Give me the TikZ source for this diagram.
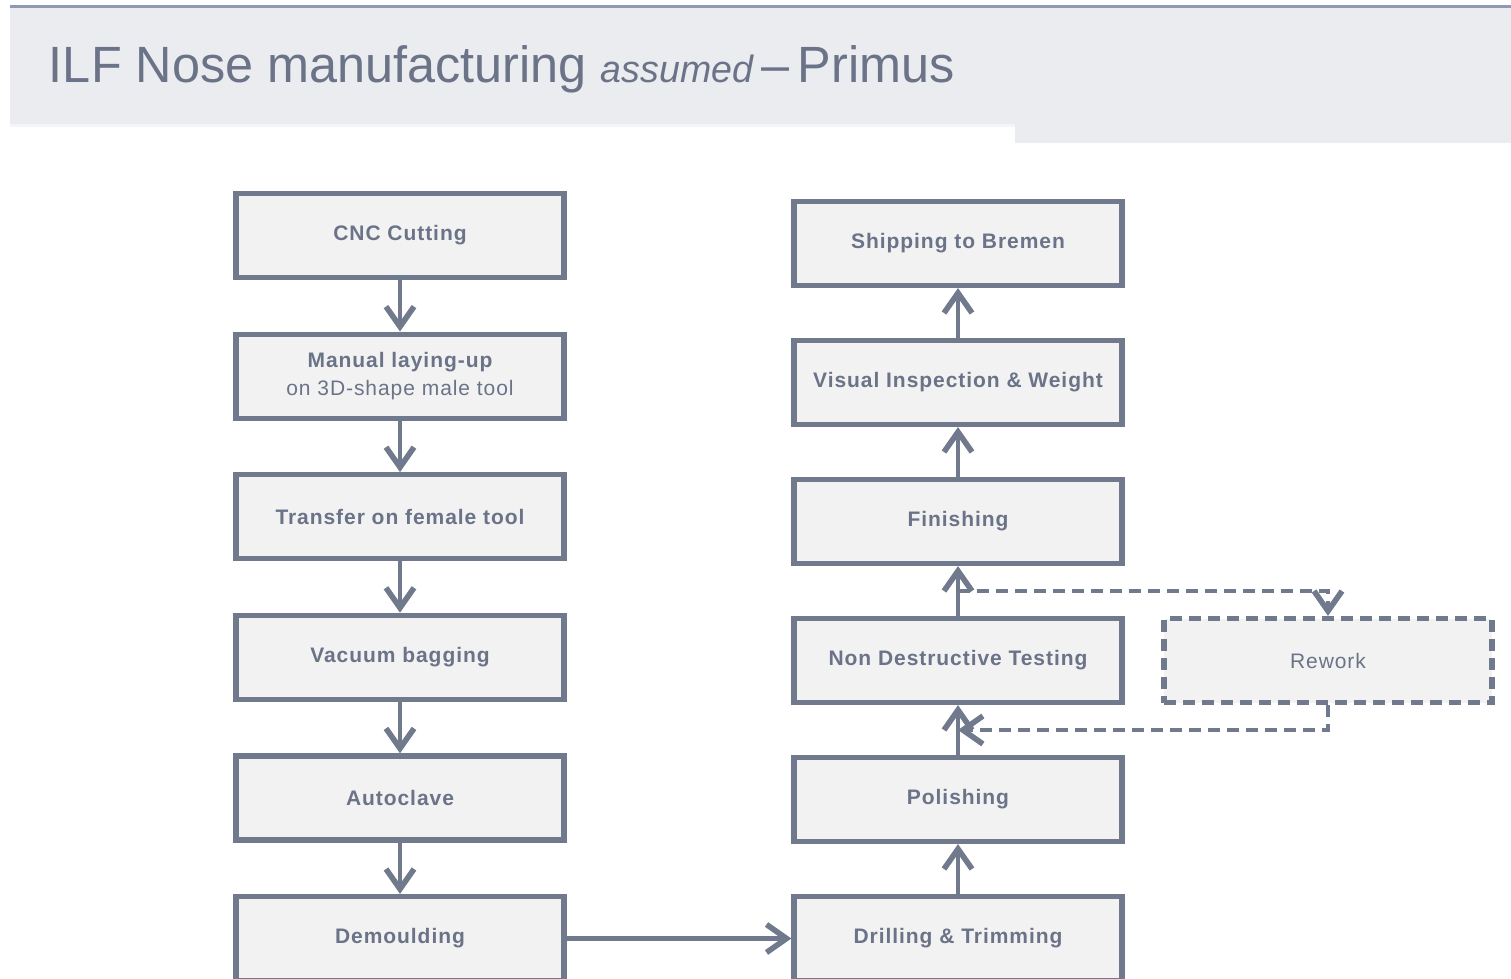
\documentclass[tikz,border=0pt]{standalone}
\usepackage{fontspec}
\setmainfont{Liberation Sans}
\newfontfamily\boxfont[LetterSpace=4.5]{Liberation Sans}
\usetikzlibrary{arrows.meta,calc}

\definecolor{slate}{HTML}{717A8C}
\definecolor{boxfill}{HTML}{F2F2F2}
\definecolor{headband}{HTML}{EBECEF}
\definecolor{headstrip}{HTML}{F4F5F7}
\definecolor{headline}{HTML}{8E9AB2}
\definecolor{labeltext}{HTML}{6B7388}

\begin{document}
\begin{tikzpicture}[x=0.5pt, y=0.5pt, node distance=70.3pt, auto, line width=2pt, >={Straight Barb[length=10pt,width=14pt,line width=2.8pt]}]
\tikzstyle{block} = [rectangle, draw=slate, fill=boxfill, line width=2.6pt, text=labeltext, font=\boxfont\fontsize{10.5}{14}\selectfont\bfseries, align=center, minimum width=164pt, minimum height=42pt, inner sep=0pt]
\tikzstyle{link} = [draw=slate, ->]
\tikzstyle{loop} = [link, dash pattern=on 6pt off 3.5pt]

\useasboundingbox (0,0) rectangle (1511,-979);
\fill[white] (0,0) rectangle (1511,-979);
\fill[headstrip] (10,-120) rectangle (1015,-127);
\fill[headband] (10,-8) -- (1511,-8) -- (1511,-143) -- (1015,-143) -- (1015,-124) -- (10,-124) -- cycle;
\draw[headline, line width=1.5pt] (10,-7) -- (1511,-7);
\node[anchor=base west, inner sep=0pt, text=labeltext, font=\fontsize{25.5}{30}\selectfont, xscale=0.988] (title) at (47,-83) {ILF Nose manufacturing {\fontsize{19}{19}\selectfont\itshape assumed}\,--\,Primus};

\node[block] (cnc) at (400,-235.5) {CNC Cutting};
\node[block, below of=cnc] (layup) {Manual laying-up\\{\mdseries on 3D-shape male tool}};
\node[block, below of=layup] (transfer) {Transfer on female tool};
\node[block, below of=transfer] (bagging) {Vacuum bagging};
\node[block, below of=bagging] (autoclave) {Autoclave};
\node[block, below of=autoclave] (demould) {Demoulding};

\node[block, right of=demould, node distance=279pt] (drill) {Drilling \& Trimming};
\node[block, above of=drill, node distance=69.5pt] (polish) {Polishing};
\node[block, above of=polish, node distance=69.5pt] (ndt) {Non Destructive Testing};
\node[block, above of=ndt, node distance=69.5pt] (finish) {Finishing};
\node[block, above of=finish, node distance=69.5pt] (visual) {Visual Inspection \& Weight};
\node[block, above of=visual, node distance=69.5pt] (shipping) {Shipping to Bremen};
\node[block, right of=ndt, node distance=185pt, dash pattern=on 6pt off 3.5pt, font=\boxfont\fontsize{10.5}{14}\selectfont] (rework) {Rework};

\draw[link] (cnc) -- (layup);
\draw[link] (layup) -- (transfer);
\draw[link] (transfer) -- (bagging);
\draw[link] (bagging) -- (autoclave);
\draw[link] (autoclave) -- (demould);
\draw[link, line width=2.6pt] (demould) -- (drill);
\draw[link] (drill) -- (polish);
\draw[link] (polish) -- (ndt);
\draw[link] (ndt) -- (finish);
\draw[link] (finish) -- (visual);
\draw[link] (visual) -- (shipping);

\coordinate (toRework) at ($(ndt.north)!0.5!(finish.south)$);
\coordinate (fromRework) at ($(polish.north)!0.5!(ndt.south)$);
\draw[loop] (toRework) -| (rework.north);
\draw[loop] (rework.south) |- (fromRework);

\end{tikzpicture}
\end{document}
